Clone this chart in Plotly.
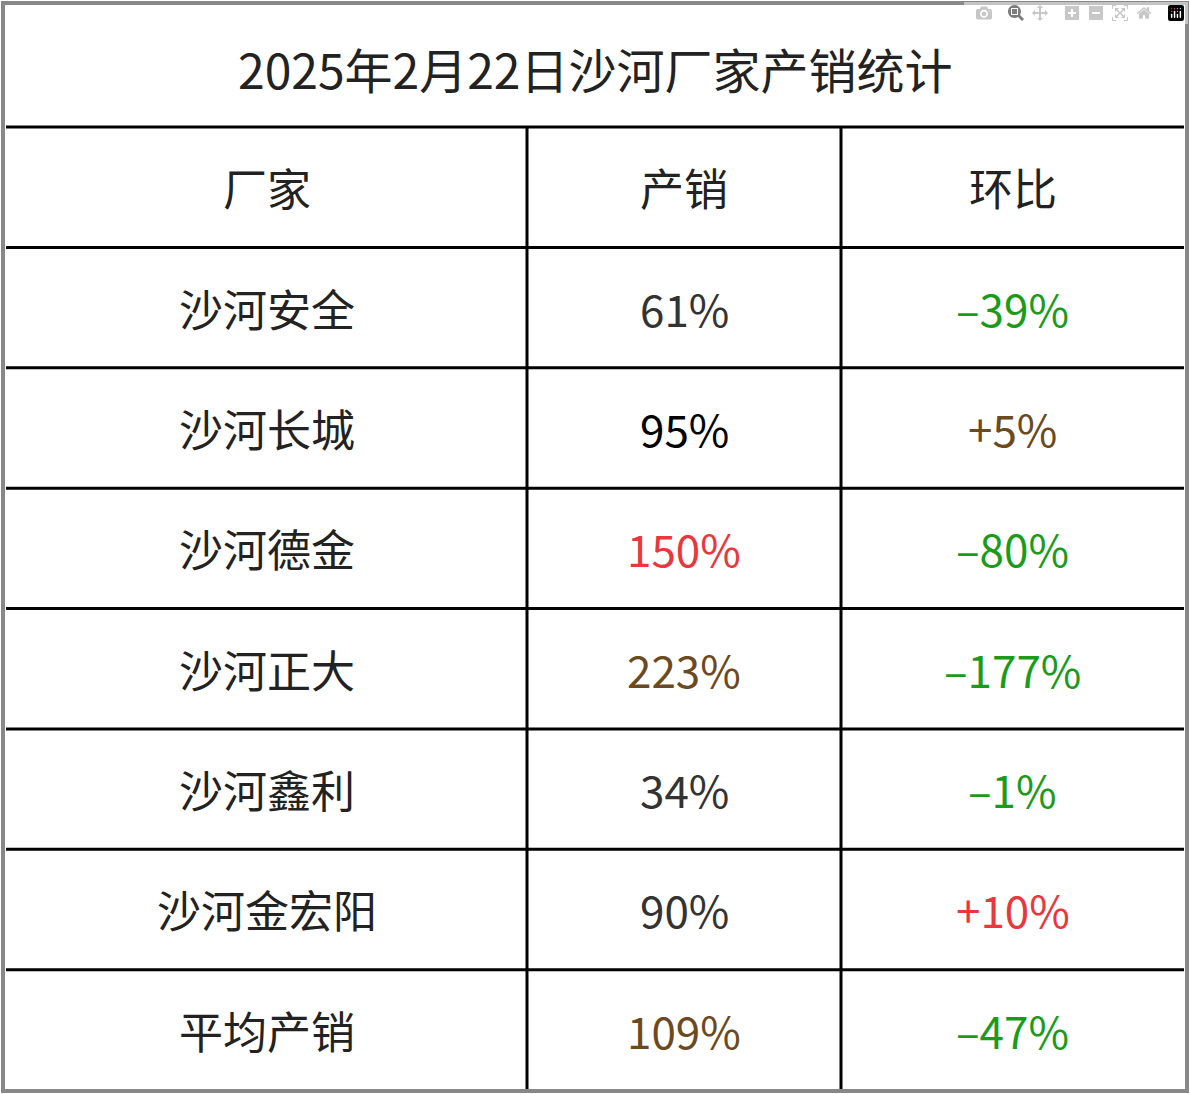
import plotly.graph_objects as go

title = "2025年2月22日沙河厂家产销统计"
headers = ["厂家", "产销", "环比"]
factories = ["沙河安全", "沙河长城", "沙河德金", "沙河正大", "沙河鑫利", "沙河金宏阳", "平均产销"]
sales = ["61%", "95%", "150%", "223%", "34%", "90%", "109%"]
ratio = ["–39%", "+5%", "–80%", "–177%", "–1%", "+10%", "–47%"]
sales_colors = ["#333333", "#000000", "#e8383d", "#6b4a1e", "#333333", "#333333", "#6b4a1e"]
ratio_colors = ["#1a9c1a", "#6b4a1e", "#1a9c1a", "#1a9c1a", "#1a9c1a", "#e8383d", "#1a9c1a"]

W, H = 1190, 1094
top, title_bottom, bottom = 4, 127, 1090
col_x = [6, 527, 841, 1184]
n_rows = len(factories) + 1
row_h = (bottom - title_bottom) / n_rows
font = "Noto Sans CJK SC"

fig = go.Figure()
shapes = []
ann = []

# horizontal lines
for i in range(n_rows):
    y = title_bottom + i * row_h
    shapes.append(dict(type="line", x0=col_x[0], x1=col_x[-1], y0=y, y1=y,
                       line=dict(color="black", width=3)))
# vertical lines
for x in col_x[1:-1]:
    shapes.append(dict(type="line", x0=x, x1=x, y0=title_bottom, y1=bottom,
                       line=dict(color="black", width=3)))
# outer border
shapes.append(dict(type="rect", x0=3, x1=W - 3, y0=3, y1=bottom + 1,
                   line=dict(color="#888888", width=4)))

ann.append(dict(x=W / 2, y=(top + title_bottom) / 2 + 2, text=title, showarrow=False,
                font=dict(size=48, color="#222222", family=font)))

cols = [(headers[0], factories, ["#222222"] * len(factories)),
        (headers[1], sales, sales_colors),
        (headers[2], ratio, ratio_colors)]
for c, (head, vals, colors) in enumerate(cols):
    cx = (col_x[c] + col_x[c + 1]) / 2
    ann.append(dict(x=cx, y=title_bottom + row_h / 2, text=head, showarrow=False,
                    font=dict(size=44, color="#222222", family=font)))
    for r, (v, col) in enumerate(zip(vals, colors)):
        ann.append(dict(x=cx, y=title_bottom + (r + 1.5) * row_h, text=v, showarrow=False,
                        font=dict(size=44, color=col, family=font)))

fig.update_layout(width=W, height=H, margin=dict(l=0, r=0, t=0, b=0),
                  paper_bgcolor="white", plot_bgcolor="white",
                  shapes=shapes, annotations=ann,
                  xaxis=dict(range=[0, W], visible=False),
                  yaxis=dict(range=[H, 0], visible=False))
fig.write_html("out.html",
               post_script="document.body.style.margin='0';document.body.style.overflow='hidden';")
